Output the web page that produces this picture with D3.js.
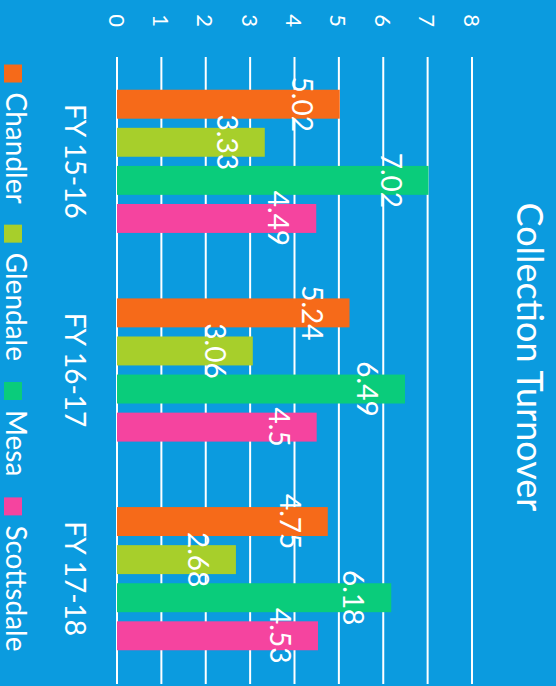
<!DOCTYPE html>
<html>
<head>
<meta charset="utf-8">
<script src="https://cdn.jsdelivr.net/npm/d3@7"></script>
<style>
  body { margin: 0; background: #0b9bdf; }
  svg { display: block; }
  text { font-family: Lato, "Open Sans", sans-serif; fill: #fff; }
</style>
</head>
<body>
<script>
// Constants
const w = 556;
const h = 686;
// chart is drawn in its own frame, then turned a quarter clockwise
const cw = h;   // chart width (runs down the page)
const ch = w;   // chart height (runs right to left)

// Data
const categories = ["FY 15-16", "FY 16-17", "FY 17-18"];
const seriesNames = ["Chandler", "Glendale", "Mesa", "Scottsdale"];
const chandler = [5.02, 5.24, 4.75];
const glendale = [3.33, 3.06, 2.68];
const mesa = [7.02, 6.49, 6.18];
const scottsdale = [4.49, 4.5, 4.53];
const yTicks = [0, 1, 2, 3, 4, 5, 6, 7, 8];
const colorPalette = ["#f66a19", "#a7cf2b", "#0acc7b", "#f5449f"];

const seriesValues = [chandler, glendale, mesa, scottsdale];
const rows = categories.map((c, i) => ({
  cat: c,
  values: seriesNames.map((s, j) => ({ name: s, value: seriesValues[j][i] }))
}));

const svg = d3.select('body')
  .append('svg')
  .attr('width', w)
  .attr('height', h);

svg.append('rect')
  .attr('width', w)
  .attr('height', h)
  .attr('fill', '#0b9bdf');

const g = svg.append('g')
  .attr('transform', 'translate(' + w + ',0) rotate(90)');

// Scales
const x0 = d3.scaleBand()
  .domain(categories)
  .range([57, 683])
  .paddingInner(0.27)
  .paddingOuter(0.135);

const x1 = d3.scaleBand()
  .domain(seriesNames)
  .range([0, x0.bandwidth()])
  .paddingInner(0.24)
  .paddingOuter(0.12);

const yScale = d3.scaleLinear()
  .domain([0, 8])
  .range([439, 84]);

const color = d3.scaleOrdinal().domain(seriesNames).range(colorPalette);

// Gridlines
g.append('g')
  .selectAll('line')
  .data(yTicks)
  .enter()
  .append('line')
  .attr('x1', 57)
  .attr('x2', 684)
  .attr('y1', d => yScale(d))
  .attr('y2', d => yScale(d))
  .attr('stroke', '#fff')
  .attr('stroke-width', 2);

// Tick labels
g.append('g')
  .selectAll('text')
  .data(yTicks)
  .enter()
  .append('text')
  .attr('x', 27)
  .attr('y', d => yScale(d))
  .attr('text-anchor', 'end')
  .attr('dominant-baseline', 'central')
  .style('font-size', '22px')
  .text(d => d);

// Bars
const groups = g.selectAll('.grp')
  .data(rows)
  .enter()
  .append('g')
  .attr('class', 'grp')
  .attr('transform', d => 'translate(' + x0(d.cat) + ',0)');

groups.selectAll('rect')
  .data(d => d.values)
  .enter()
  .append('rect')
  .attr('x', d => x1(d.name))
  .attr('width', x1.bandwidth())
  .attr('y', d => yScale(d.value))
  .attr('height', d => yScale(0) - yScale(d.value))
  .attr('fill', d => color(d.name));

// Value labels (inside end)
groups.selectAll('text')
  .data(d => d.values)
  .enter()
  .append('text')
  .attr('x', d => x1(d.name) + x1.bandwidth() / 2)
  .attr('y', d => yScale(d.value) + 48)
  .attr('text-anchor', 'middle')
  .style('font-size', '28px')
  .text(d => d.value);

// Category labels
g.append('g')
  .selectAll('text')
  .data(categories)
  .enter()
  .append('text')
  .attr('x', d => x0(d) + x0.bandwidth() / 2)
  .attr('y', 491)
  .attr('text-anchor', 'middle')
  .style('font-size', '28px')
  .text(d => d);

// Title
g.append('text')
  .attr('x', 357)
  .attr('y', 39)
  .attr('text-anchor', 'middle')
  .style('font-size', '36px')
  .text('Collection Turnover');

// Legend
const legend = g.append('g');
let pos = 0;
seriesNames.forEach((s, i) => {
  const item = legend.append('g');
  item.append('rect')
    .attr('x', pos)
    .attr('y', ch - 22)
    .attr('width', 18)
    .attr('height', 18)
    .attr('fill', colorPalette[i]);
  const t = item.append('text')
    .attr('x', pos + 28)
    .attr('y', ch - 6)
    .style('font-size', '28px')
    .text(s);
  pos += 28 + t.node().getComputedTextLength() + 21;
});
const legendWidth = pos - 21;
legend.attr('transform', 'translate(' + (358 - legendWidth / 2) + ',0)');
</script>
</body>
</html>
